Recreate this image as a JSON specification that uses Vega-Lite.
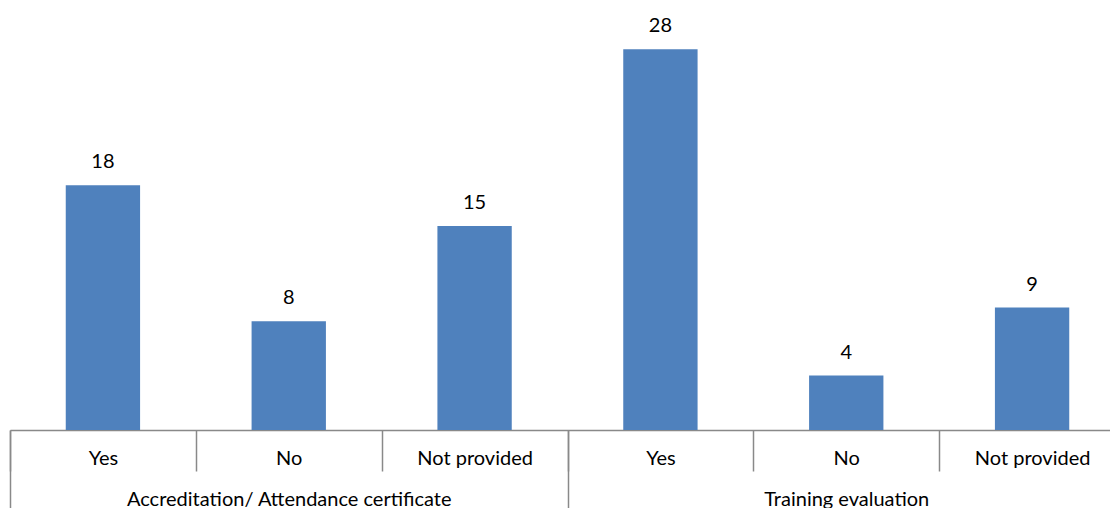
{
  "$schema": "https://vega.github.io/schema/vega-lite/v6.json",
  "width": 1100,
  "height": 408,
  "autosize": {"type": "none"},
  "padding": {"left": 10, "top": 22, "right": 0, "bottom": 78},
  "config": {"view": {"stroke": null}, "font": "Lato"},
  "data": {
    "values": [
      {"bar": "Accreditation/ Attendance certificate|Yes", "count": 18},
      {"bar": "Accreditation/ Attendance certificate|No", "count": 8},
      {"bar": "Accreditation/ Attendance certificate|Not provided", "count": 15},
      {"bar": "Training evaluation|Yes", "count": 28},
      {"bar": "Training evaluation|No", "count": 4},
      {"bar": "Training evaluation|Not provided", "count": 9}
    ]
  },
  "layer": [
    {
      "mark": {"type": "bar", "color": "#4F81BD", "width": {"band": 0.4}},
      "encoding": {
        "x": {
          "field": "bar", "type": "nominal", "sort": null,
          "scale": {"range": [0, 1115], "paddingInner": 0, "paddingOuter": 0},
          "axis": {
            "title": null, "orient": "bottom", "grid": false,
            "domainColor": "#898989", "domainWidth": 1.5,
            "tickColor": "#898989", "tickWidth": 1.5, "tickSize": 41, "tickBand": "extent",
            "labelExpr": "split(datum.value, '|')[1]",
            "labelAngle": 0, "labelFontSize": 20, "labelColor": "#000000",
            "labelBaseline": "middle", "labelPadding": -13,
            "labelOverlap": false, "labelLimit": 0
          }
        },
        "y": {
          "field": "count", "type": "quantitative",
          "scale": {"domain": [0, 30]}, "axis": null
        }
      }
    },
    {
      "mark": {"type": "text", "dy": -17, "baseline": "alphabetic", "fontSize": 20, "color": "#000000"},
      "encoding": {
        "x": {
          "field": "bar", "type": "nominal", "sort": null,
          "axis": {
            "title": null, "orient": "bottom", "grid": false, "domain": false,
            "values": ["Accreditation/ Attendance certificate|No", "Training evaluation|No"],
            "tickColor": "#898989", "tickWidth": 1.5, "tickSize": 78,
            "tickOffset": -278.75, "labelOffset": 278.75,
            "labelExpr": "split(datum.value, '|')[0]",
            "labelAngle": 0, "labelFontSize": 20, "labelColor": "#000000",
            "labelBaseline": "middle", "labelPadding": -9,
            "labelOverlap": false, "labelLimit": 0
          }
        },
        "y": {"field": "count", "type": "quantitative"},
        "text": {"field": "count", "type": "quantitative"}
      }
    }
  ],
  "resolve": {"axis": {"x": "independent"}}
}
